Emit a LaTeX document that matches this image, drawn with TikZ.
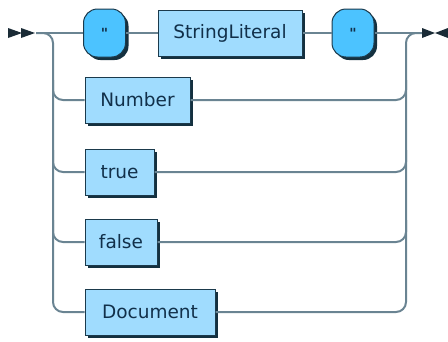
\documentclass[tikz,border=0pt]{standalone}
\usepackage{fontspec}
\setmainfont{DejaVu Sans}
\newfontfamily\qfont{DejaVu Sans Bold}
\usetikzlibrary{shadows}
\definecolor{railcol}{HTML}{6A8492}
\definecolor{ntfill}{HTML}{A0DCFE}
\definecolor{tfill}{HTML}{4CC3FF}
\definecolor{boxline}{HTML}{1B3A4C}
\definecolor{shadcol}{HTML}{14303F}
\definecolor{txtcol}{HTML}{11304A}
\definecolor{arrcol}{HTML}{1A2B36}
\begin{document}
\begin{tikzpicture}[x=1pt,y=-1pt,
  rail/.style={draw=railcol,line width=2pt,rounded corners=10pt},
  boxbase/.style={draw=boxline,line width=1pt,text=txtcol,inner sep=0pt,
    font=\fontsize{18.5}{20}\selectfont,
    general shadow={shadow xshift=3pt,shadow yshift=-3pt,fill=shadcol}},
  nonterm/.style={boxbase,fill=ntfill,rectangle,minimum height=46pt},
  term/.style={boxbase,fill=tfill,rectangle,rounded corners=14pt,minimum height=48pt,minimum width=42pt}]
\useasboundingbox (0,0) rectangle (448,341);
% nodes
\node[term] (q1) at (104.5,33) {\qfont\fontsize{14}{16}\selectfont"};
\node[nonterm,minimum width=144pt] (sl) at (230,33) {StringLiteral};
\node[term] (q2) at (353,33) {\qfont\fontsize{14}{16}\selectfont"};
\node[nonterm,minimum width=105pt] (num) at (137.5,100) {Number};
\node[nonterm,minimum width=69pt] (tru) at (119.5,172) {true};
\node[nonterm,minimum width=72pt] (fal) at (121,242) {false};
\node[nonterm,minimum width=130pt] (doc) at (150,312) {Document};
\coordinate (s) at (36,33);
\coordinate (e) at (422,33);
% rails
\draw[rail] (s) -- (q1.west);
\draw[rail] (q1.east) -- (sl.west);
\draw[rail] (sl.east) -- (q2.west);
\draw[rail] (q2.east) -- (e);
\draw[rail] (s) -| (53,312) -- (doc.west);
\draw[rail] (53,80) |- (num.west);
\draw[rail] (53,150) |- (tru.west);
\draw[rail] (53,220) |- (fal.west);
\draw[rail] (doc.east) -| (406,33) -- (e);
\draw[rail] (num.east) -| (406,80);
\draw[rail] (tru.east) -| (406,150);
\draw[rail] (fal.east) -| (406,220);
% start/end markers
\fill[arrcol] (8,28) -- (22,33) -- (8,38) -- cycle;
\fill[arrcol] (21,28) -- (35,33) -- (21,38) -- cycle;
\fill[arrcol] (422,28) -- (435,33) -- (422,38) -- cycle;
\fill[arrcol] (448,28) -- (435,33) -- (448,38) -- cycle;
\end{tikzpicture}
\end{document}
